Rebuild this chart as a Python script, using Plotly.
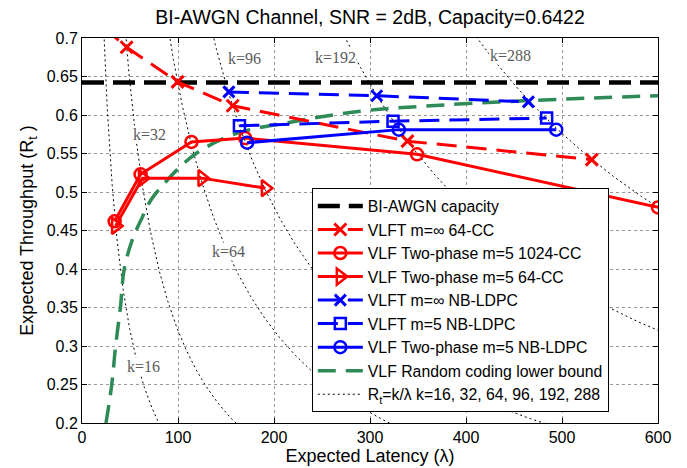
import numpy as np
import plotly.graph_objects as go

# ---------------- data ----------------
capacity = 0.6422
cap_x = [0, 600]

vlft_inf_cc_x = [22.4, 46.5, 99.5, 157, 339, 531]
vlft_inf_cc_y = [0.714, 0.688, 0.643, 0.612, 0.566, 0.542]

tp_1024_x = [34, 61, 114, 170, 349, 600]
tp_1024_y = [0.462, 0.523, 0.565, 0.570, 0.549, 0.480]

tp_64_x = [35, 63, 125, 191]
tp_64_y = [0.456, 0.518, 0.518, 0.505]

vlft_inf_ldpc_x = [153, 307, 465]
vlft_inf_ldpc_y = [0.630, 0.625, 0.617]

vlft_5_ldpc_x = [164, 324, 484]
vlft_5_ldpc_y = [0.586, 0.592, 0.596]

tp_ldpc_x = [172, 330, 494]
tp_ldpc_y = [0.564, 0.581, 0.581]

rc_x = [25, 31, 35, 40, 44, 53, 62, 72, 85, 100, 120, 158, 214, 290, 350, 470, 600]
rc_y = [0.20, 0.25, 0.30, 0.35, 0.40, 0.44, 0.465, 0.49, 0.51, 0.53, 0.551, 0.575,
        0.590, 0.605, 0.611, 0.619, 0.625]

k_values = [16, 32, 64, 96, 192, 288]

x_ticks = [0, 100, 200, 300, 400, 500, 600]
y_ticks = [0.2, 0.25, 0.3, 0.35, 0.4, 0.45, 0.5, 0.55, 0.6, 0.65, 0.7]

# ---------------- figure ----------------
RED = "#ff0000"
BLUE = "#0000ff"
GREEN = "#2e8b57"
FONT = "Liberation Sans, Arial, sans-serif"

fig = go.Figure()

# R_t = k / lambda reference curves
for i, k in enumerate(k_values):
    lam = np.linspace(k / 0.75, min(620, k / 0.18), 300)
    fig.add_trace(go.Scatter(
        x=lam, y=k / lam, mode="lines",
        line=dict(color="black", width=1, dash="2px,3px"),
        name="R<sub>t</sub>=k/λ k=16, 32, 64, 96, 192, 288",
        showlegend=(i == 0), legendgroup="k", legendrank=9,
        hoverinfo="skip"))

fig.add_trace(go.Scatter(
    x=cap_x, y=[capacity, capacity], mode="lines",
    line=dict(color="black", width=4.5, dash="22px,9px"),
    name="BI-AWGN capacity", legendrank=1))

fig.add_trace(go.Scatter(
    x=rc_x, y=rc_y, mode="lines", line_shape="spline",
    line=dict(color=GREEN, width=3.5, dash="18px,10px"),
    name="VLF Random coding lower bound", legendrank=8))

fig.add_trace(go.Scatter(
    x=vlft_inf_cc_x, y=vlft_inf_cc_y, mode="lines+markers",
    line=dict(color=RED, width=3, dash="20px,10px"),
    marker=dict(symbol="x-thin", size=12, line=dict(color=RED, width=3)),
    name="VLFT m=∞ 64-CC", legendrank=2))

fig.add_trace(go.Scatter(
    x=tp_1024_x, y=tp_1024_y, mode="lines+markers",
    line=dict(color=RED, width=3),
    marker=dict(symbol="circle-open", size=12, line=dict(color=RED, width=2.5)),
    name="VLF Two-phase m=5 1024-CC", legendrank=3))

fig.add_trace(go.Scatter(
    x=tp_64_x, y=tp_64_y, mode="lines+markers",
    line=dict(color=RED, width=3),
    marker=dict(symbol="triangle-right-open", size=14, line=dict(color=RED, width=2.5)),
    name="VLF Two-phase m=5 64-CC", legendrank=4))

fig.add_trace(go.Scatter(
    x=vlft_inf_ldpc_x, y=vlft_inf_ldpc_y, mode="lines+markers",
    line=dict(color=BLUE, width=3, dash="20px,10px"),
    marker=dict(symbol="x-thin", size=11, line=dict(color=BLUE, width=3)),
    name="VLFT m=∞ NB-LDPC", legendrank=5))

fig.add_trace(go.Scatter(
    x=vlft_5_ldpc_x, y=vlft_5_ldpc_y, mode="lines+markers",
    line=dict(color=BLUE, width=3, dash="20px,10px"),
    marker=dict(symbol="square-open", size=11, line=dict(color=BLUE, width=2.5)),
    name="VLFT m=5 NB-LDPC", legendrank=6))

fig.add_trace(go.Scatter(
    x=tp_ldpc_x, y=tp_ldpc_y, mode="lines+markers",
    line=dict(color=BLUE, width=3),
    marker=dict(symbol="circle-open", size=12, line=dict(color=BLUE, width=2.5)),
    name="VLF Two-phase m=5 NB-LDPC", legendrank=7))

# k labels
label_pos = {16: (64, 0.273), 32: (70, 0.575), 64: (153, 0.423),
             96: (169, 0.674), 192: (264, 0.675), 288: (446, 0.677)}
for k in k_values:
    lx, ly = label_pos[k]
    fig.add_annotation(
        x=lx, y=ly, text=f"k={k}", showarrow=False,
        font=dict(family="Liberation Serif, Times New Roman, serif", size=16, color="#5a5a5a"),
        bgcolor="white", borderpad=0)

axis_common = dict(
    showline=True, linecolor="black", linewidth=1, mirror="ticks",
    ticks="inside", ticklen=5, tickcolor="black", automargin=False,
    showgrid=True, gridcolor="#999999", griddash="dot", gridwidth=1,
    zeroline=False, tickfont=dict(family=FONT, size=16, color="black"))

fig.update_xaxes(range=[0, 600], tickvals=x_ticks,
                 title=dict(text="Expected Latency (λ)",
                            font=dict(family=FONT, size=18, color="black"), standoff=2),
                 **axis_common)
fig.update_yaxes(range=[0.2, 0.7], tickvals=y_ticks,
                 ticktext=[f"{v:g}" for v in y_ticks],
                 title=dict(text="Expected Throughput (R<sub>t</sub> )",
                            font=dict(family=FONT, size=18, color="black"), standoff=8),
                 **axis_common)

fig.update_layout(
    width=687, height=468,
    margin=dict(l=82, r=29, t=38, b=45, autoexpand=False),
    paper_bgcolor="white", plot_bgcolor="white",
    title=dict(text="BI-AWGN Channel, SNR = 2dB, Capacity=0.6422",
               x=0.5, xref="paper", y=1 - 17 / 468, yref="container",
               xanchor="center", yanchor="middle",
               font=dict(family=FONT, size=19.5, color="black")),
    legend=dict(x=0.399, y=0.61, xanchor="left", yanchor="top",
                bgcolor="white", bordercolor="black", borderwidth=1,
                font=dict(family=FONT, size=15.8, color="black"),
                itemwidth=45, tracegroupgap=0),
    showlegend=True,
)

fig.write_html(
    "out.html",
    config={"displayModeBar": False},
    post_script="document.documentElement.style.margin='0';"
                "document.body.style.margin='0';document.body.style.padding='0';"
                "document.body.style.overflow='hidden';")
